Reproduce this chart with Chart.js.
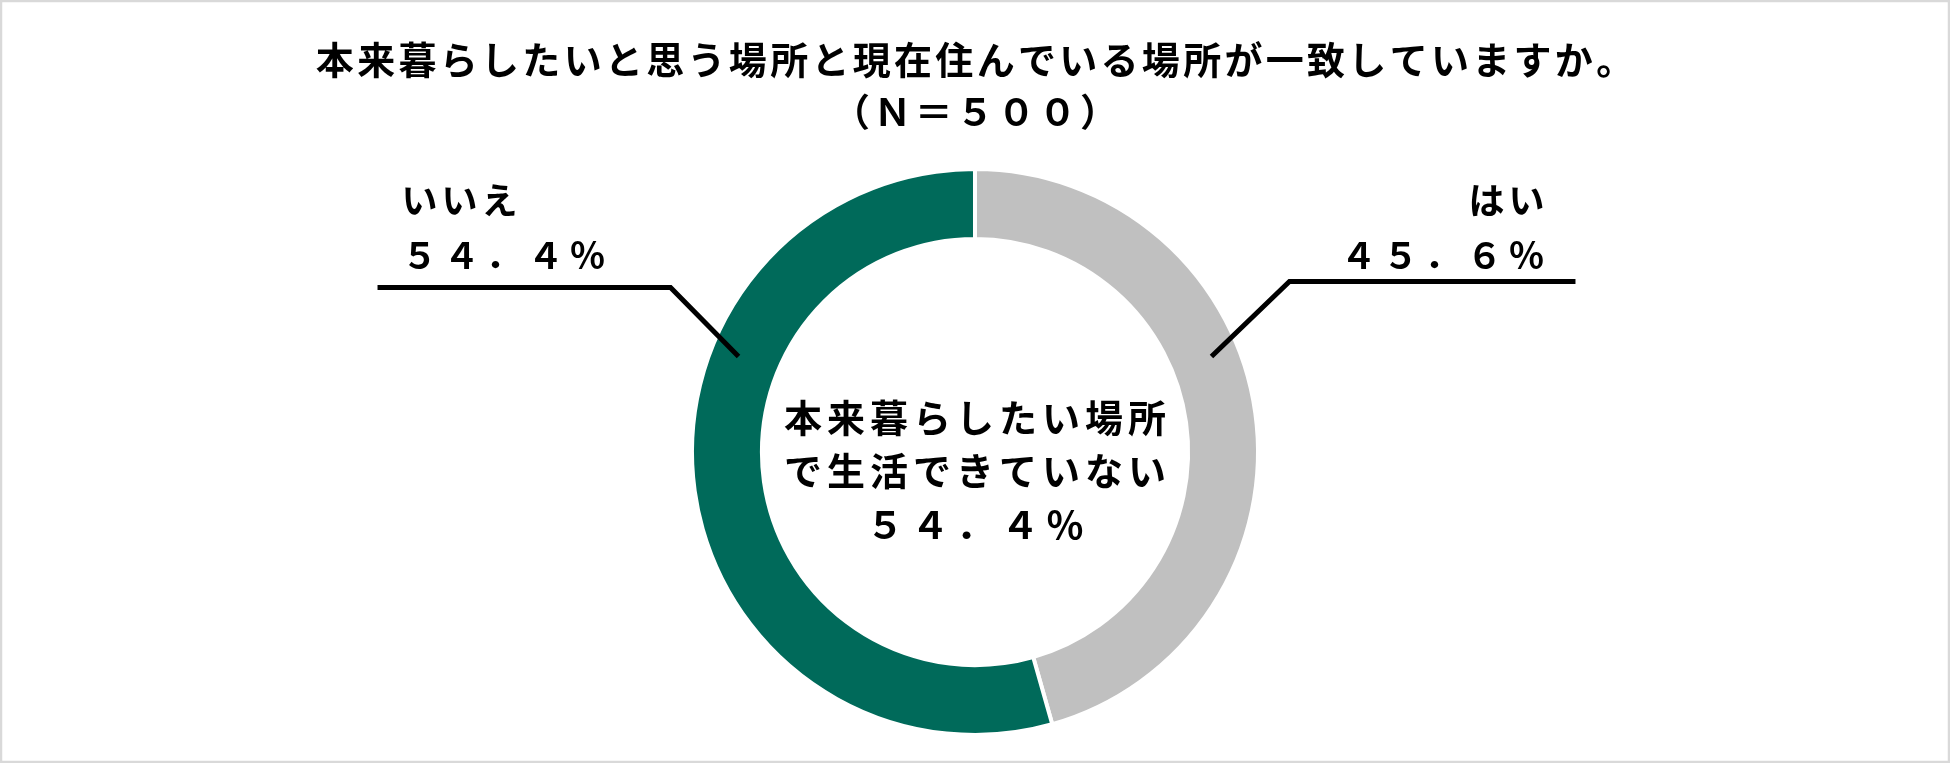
<!DOCTYPE html>
<html><head><meta charset="utf-8">
<script src="https://cdn.jsdelivr.net/npm/chart.js@4/dist/chart.umd.min.js"></script>
<style>html,body{margin:0;padding:0;background:#fff;overflow:hidden}canvas{display:block}</style>
</head><body>
<canvas id="c" width="1950" height="763"></canvas>
<script>
// ---- data ----
const categories = ['はい', 'いいえ'];
const values = [45.6, 54.4];
const sliceColors = ['#C0C0C0', '#006A5A'];
const titleLines = ['本来暮らしたいと思う場所と現在住んでいる場所が一致していますか。', '（Ｎ＝５００）'];
const centerLines = ['本来暮らしたい場所', 'で生活できていない'];
const centerValueIndex = 1;

// ---- helpers ----
const toFull = s => s.replace(/[0-9.%]/g, c => String.fromCharCode(c.charCodeAt(0) + 0xFEE0));
const pct = v => toFull(v.toFixed(1) + '%');
const FONT = '"Noto Sans CJK JP", "Noto Sans CJK SC", sans-serif';

function drawSpaced(ctx, text, x, y, align, spacing) {
  ctx.letterSpacing = '0px';
  const chars = Array.from(text);
  let w = 0;
  for (const ch of chars) w += ctx.measureText(ch).width;
  w += spacing * (chars.length - 1);
  let sx = align === 'center' ? x - w / 2 : align === 'right' ? x - w : x;
  ctx.textAlign = 'left';
  for (const ch of chars) {
    ctx.fillText(ch, sx, y);
    sx += ctx.measureText(ch).width + spacing;
  }
}

// label/leader layout per slice (relative to the ring)
const leaderLayout = [
  { angle: 68, elbow: [78, -75], run: 286, textSide: 'right', textInset: 31, catDy: -81, valDy: -26 },
  { angle: -68, elbow: [-68, -69], run: -293, textSide: 'left', textInset: 24, catDy: -87, valDy: -32 }
];

const overlay = {
  id: 'overlay',
  afterDraw(chart) {
    const ctx = chart.ctx;
    const meta = chart.getDatasetMeta(0);
    const arc = meta.data[0];
    const cx = arc.x, cy = arc.y;
    const rMid = (arc.innerRadius + arc.outerRadius) / 2 + 7;
    ctx.save();
    // frame
    ctx.strokeStyle = '#D9D9D9';
    ctx.lineWidth = 2.5;
    ctx.strokeRect(1, 1, chart.width - 2, chart.height - 2);

    ctx.fillStyle = '#000';
    ctx.textBaseline = 'middle';
    // title
    ctx.font = '700 38px ' + FONT;
    drawSpaced(ctx, titleLines[0], cx, 60, 'center', 3.3);
    drawSpaced(ctx, titleLines[1], cx, 112, 'center', 3.3);

    // leaders + labels
    categories.forEach((cat, i) => {
      const L = leaderLayout[i];
      const th = L.angle * Math.PI / 180;
      const ax = cx + rMid * Math.sin(th), ay = cy - rMid * Math.cos(th);
      const ex = ax + L.elbow[0], ey = ay + L.elbow[1];
      const hx = ex + L.run;
      ctx.strokeStyle = '#000';
      ctx.lineWidth = 5;
      ctx.lineJoin = 'miter';
      ctx.beginPath();
      ctx.moveTo(ax, ay); ctx.lineTo(ex, ey); ctx.lineTo(hx, ey);
      ctx.stroke();
      ctx.font = '700 36px ' + FONT;
      if (L.textSide === 'right') {
        drawSpaced(ctx, cat, hx - L.textInset, ey + L.catDy, 'right', 4);
        drawSpaced(ctx, pct(values[i]), hx - L.textInset, ey + L.valDy, 'right', 6);
      } else {
        drawSpaced(ctx, cat, hx + L.textInset, ey + L.catDy, 'left', 4);
        drawSpaced(ctx, pct(values[i]), hx + L.textInset, ey + L.valDy, 'left', 6);
      }
    });

    // center text
    ctx.font = '700 38px ' + FONT;
    drawSpaced(ctx, centerLines[0], cx, cy - 34, 'center', 5);
    drawSpaced(ctx, centerLines[1], cx, cy + 19, 'center', 5);
    drawSpaced(ctx, pct(values[centerValueIndex]), cx, cy + 73, 'center', 7);
    ctx.restore();
  }
};

new Chart(document.getElementById('c'), {
  type: 'doughnut',
  data: {
    labels: categories,
    datasets: [{
      data: values,
      backgroundColor: sliceColors,
      borderColor: '#FFFFFF',
      borderWidth: 4,
      hoverOffset: 0
    }]
  },
  options: {
    responsive: false,
    animation: false,
    devicePixelRatio: 1,
    cutout: '75.3%',
    rotation: 0,
    layout: { padding: { top: 167, bottom: 26, left: 0, right: 0 } },
    plugins: {
      legend: { display: false },
      title: { display: false },
      tooltip: { enabled: false }
    }
  },
  plugins: [overlay]
});
</script>
</body></html>
